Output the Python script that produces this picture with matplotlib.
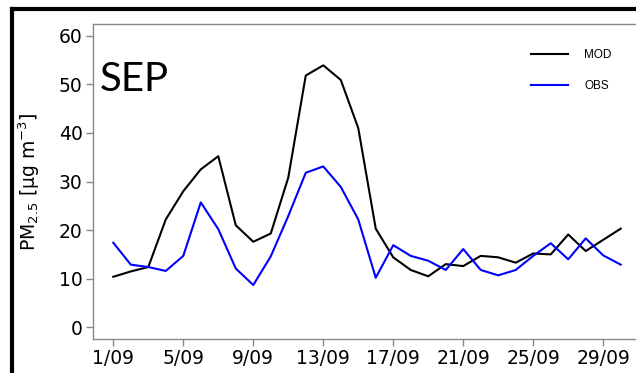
import matplotlib
matplotlib.use("Agg")
from matplotlib import pyplot as plt
from matplotlib.lines import Line2D

# daily PM2.5, September
days = list(range(1, 31))
mod = [10.4, 11.5, 12.4, 22.2, 28.0, 32.5, 35.2, 21.0, 17.6, 19.3,
       30.8, 51.8, 53.9, 50.9, 41.0, 20.3, 14.4, 11.8, 10.5, 13.0,
       12.6, 14.7, 14.4, 13.3, 15.2, 15.0, 19.1, 15.7, 18.0, 20.3]
obs = [17.4, 12.9, 12.4, 11.6, 14.7, 25.7, 20.2, 12.1, 8.7, 14.6,
       22.9, 31.8, 33.1, 28.9, 22.2, 10.2, 16.9, 14.7, 13.7, 11.8,
       16.1, 11.8, 10.7, 11.8, 14.7, 17.3, 14.0, 18.3, 14.8, 12.9]
xticks = [1, 5, 9, 13, 17, 21, 25, 29]
xlabels = ["1/09", "5/09", "9/09", "13/09", "17/09", "21/09", "25/09", "29/09"]
yticks = [0, 10, 20, 30, 40, 50, 60]

plt.rcParams['font.family'] = ['DejaVu Sans']

W, H = 636, 373
fig = plt.figure(figsize=(W / 100, H / 100), dpi=100)
ax = fig.add_axes([93 / W, 1 - 339 / H, (641 - 93) / W, (339 - 24) / H])

ax.plot(days, mod, color="black", lw=1.5, label="MOD")
ax.plot(days, obs, color="#0000ff", lw=1.5, label="OBS")

ax.set_xlim(1 - 0.04 * 29, 30 + 0.04 * 29)
ax.set_ylim(-2.4, 62.4)
ax.set_xticks(xticks)
ax.set_xticklabels(xlabels)
ax.set_yticks(yticks)
ax.tick_params(labelsize=13.5, length=5, width=1, color="#888888", pad=2.5,
               labelcolor="black")
for s in ax.spines.values():
    s.set_color("#888888")
    s.set_linewidth(1)

ax.set_ylabel(r"PM$_{2.5}$ [$\mathregular{\mu}$g m$^{-3}$]", fontsize=13.5)
ax.yaxis.set_label_coords(-0.093, 0.5)

ax.text(0.012, 0.824, "SEP", transform=ax.transAxes, fontsize=29,
        family="Lato", va="center", ha="left")

ax.legend(loc="upper left", bbox_to_anchor=(0.78, 0.953), frameon=False,
          prop={"family": "Liberation Sans", "size": 8.5},
          handlelength=3.1, handletextpad=1.4, labelspacing=1.6)

# outer black frame, partly cut off at right and bottom
fig.add_artist(Line2D([12 / W, 12 / W], [0, 1 - 9 / H], color="black",
                      lw=3, transform=fig.transFigure, solid_capstyle="projecting"))
fig.add_artist(Line2D([12 / W, 1], [1 - 9 / H, 1 - 9 / H], color="black",
                      lw=3, transform=fig.transFigure, solid_capstyle="projecting"))

fig.savefig("out.png", dpi=100)
